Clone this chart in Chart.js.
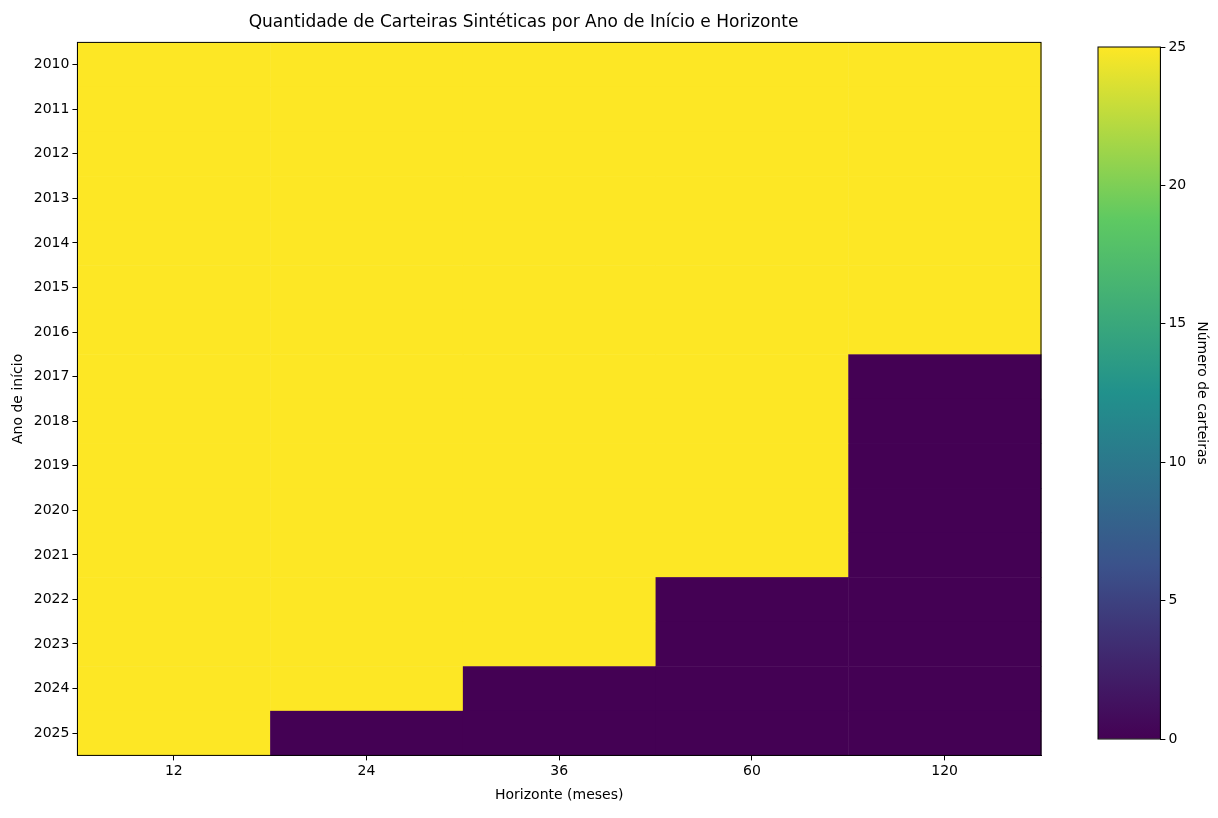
<!DOCTYPE html>
<html lang="pt">
<head>
<meta charset="UTF-8" />
<title>Carteiras Sintéticas</title>
<script src="https://cdn.jsdelivr.net/npm/chart.js"></script>
<style>
  body { margin: 0; background: #fff; font-family: 'DejaVu Sans', sans-serif; }
  #wrap { position: relative; width: 1218px; height: 818px; }
  #main { position: absolute; left: 0; top: 0; }
  #bar { position: absolute; left: 1040px; top: 0; }
</style>
</head>
<body>
<div id="wrap">
  <canvas id="main" width="1218" height="818"></canvas>
  <canvas id="bar" width="178" height="818"></canvas>
</div>
<script>
const years = ['2010','2011','2012','2013','2014','2015','2016','2017','2018','2019','2020','2021','2022','2023','2024','2025'];
const horizons = ['12','24','36','60','120'];
// number of portfolios per start year (rows) and horizon (columns)
const counts = [
  [25,25,25,25,25],
  [25,25,25,25,25],
  [25,25,25,25,25],
  [25,25,25,25,25],
  [25,25,25,25,25],
  [25,25,25,25,25],
  [25,25,25,25,25],
  [25,25,25,25,0],
  [25,25,25,25,0],
  [25,25,25,25,0],
  [25,25,25,25,0],
  [25,25,25,25,0],
  [25,25,25,0,0],
  [25,25,25,0,0],
  [25,25,0,0,0],
  [25,0,0,0,0]
];
const cbTicks = [0,5,10,15,20,25];

Chart.defaults.font.family = "'DejaVu Sans', sans-serif";
Chart.defaults.color = '#000';
Chart.defaults.animation = false;

const stops = [[0,[68,1,84]],[0.25,[59,82,139]],[0.5,[33,145,140]],[0.75,[94,201,98]],[1,[253,231,37]]];
function viridis(t) {
  for (let i = 1; i < stops.length; i++) {
    if (t <= stops[i][0]) {
      const [a, ca] = stops[i-1], [b, cb] = stops[i];
      const f = (t - a) / (b - a);
      const c = ca.map((v, k) => Math.round(v + (cb[k] - v) * f));
      return `rgb(${c[0]},${c[1]},${c[2]})`;
    }
  }
  return 'rgb(253,231,37)';
}

const heatmap = {
  id: 'heatmap',
  beforeDatasetsDraw(chart) {
    const { ctx, scales: { x, y } } = chart;
    counts.forEach((row, r) => row.forEach((v, c) => {
      const x0 = x.getPixelForValue(c - 0.5), x1 = x.getPixelForValue(c + 0.5);
      const y0 = y.getPixelForValue(r - 0.5), y1 = y.getPixelForValue(r + 0.5);
      ctx.fillStyle = viridis(v / 25);
      ctx.fillRect(x0, y0, x1 - x0 + 0.5, y1 - y0 + 0.5);
    }));
  },
  afterDraw(chart) {
    const { ctx, chartArea: a } = chart;
    ctx.strokeStyle = '#000'; ctx.lineWidth = 1;
    ctx.strokeRect(a.left, a.top, a.right - a.left, a.bottom - a.top);
  }
};

const axisGrid = { drawOnChartArea: false, drawTicks: true, tickLength: 5, color: '#000' };

new Chart(document.getElementById('main'), {
  type: 'scatter',
  data: { datasets: [{ data: [] }] },
  plugins: [heatmap],
  options: {
    responsive: false,
    layout: { padding: { left: 6, right: 177, top: 2, bottom: 10 } },
    plugins: {
      legend: { display: false },
      tooltip: { enabled: false },
      title: { display: true, text: 'Quantidade de Carteiras Sintéticas por Ano de Início e Horizonte',
               font: { size: 17, weight: 'normal' }, padding: { top: 10, bottom: 10 } }
    },
    scales: {
      x: {
        min: -0.5, max: 4.5,
        afterBuildTicks: s => { s.ticks = horizons.map((_, i) => ({ value: i })); },
        ticks: { callback: v => horizons[v], font: { size: 14 }, autoSkip: false, maxRotation: 0 },
        grid: axisGrid, border: { color: '#000' },
        title: { display: true, text: 'Horizonte (meses)', font: { size: 14 } }
      },
      y: {
        reverse: true, min: -0.5, max: 15.5,
        afterBuildTicks: s => { s.ticks = years.map((_, i) => ({ value: i })); },
        ticks: { callback: v => years[v], font: { size: 14 }, autoSkip: false },
        grid: axisGrid, border: { color: '#000' },
        title: { display: true, text: 'Ano de início', font: { size: 14 } }
      }
    }
  }
});

new Chart(document.getElementById('bar'), {
  type: 'bar',
  data: {
    labels: [''],
    datasets: [{
      data: [[0, 25]],
      barPercentage: 1, categoryPercentage: 1,
      backgroundColor: ctx => {
        const a = ctx.chart.chartArea;
        if (!a) return '#fde725';
        const g = ctx.chart.ctx.createLinearGradient(0, a.bottom, 0, a.top);
        stops.forEach(([t, c]) => g.addColorStop(t, `rgb(${c[0]},${c[1]},${c[2]})`));
        return g;
      }
    }]
  },
  plugins: [{
    id: 'frame',
    afterDraw(chart) {
      const { ctx, chartArea: a } = chart;
      ctx.strokeStyle = '#000'; ctx.lineWidth = 1;
      ctx.strokeRect(a.left, a.top, a.right - a.left, a.bottom - a.top);
    }
  }],
  options: {
    responsive: false,
    layout: { padding: { left: 58, right: 4, top: 47, bottom: 79 } },
    plugins: { legend: { display: false }, tooltip: { enabled: false } },
    scales: {
      x: { display: false },
      y: {
        position: 'right', min: 0, max: 25,
        afterBuildTicks: s => { s.ticks = cbTicks.map(v => ({ value: v })); },
        ticks: { font: { size: 14 } },
        grid: axisGrid, border: { color: '#000' },
        title: { display: true, text: 'Número de carteiras', font: { size: 14 } }
      }
    }
  }
});
</script>
</body>
</html>
